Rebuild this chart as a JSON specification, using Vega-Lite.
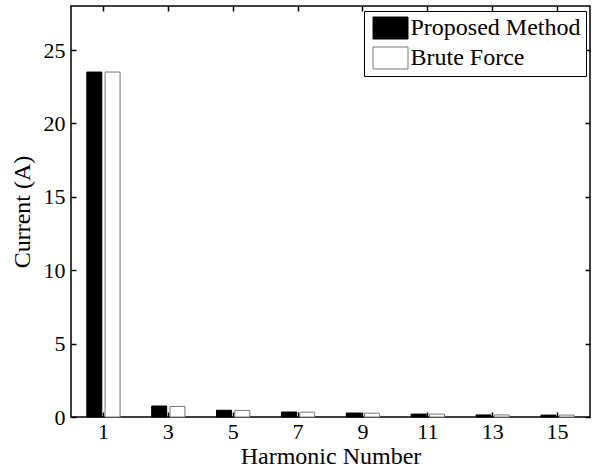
{
  "$schema": "https://vega.github.io/schema/vega-lite/v6.json",
  "autosize": "none",
  "width": 519,
  "height": 411,
  "padding": {"left": 71, "top": 6, "right": 5, "bottom": 53},
  "background": "white",
  "config": {
    "font": "Liberation Serif",
    "view": {"stroke": "black", "strokeWidth": 1.5},
    "axis": {
      "labelFont": "Liberation Serif",
      "titleFont": "Liberation Serif",
      "labelFontSize": 22,
      "titleFontSize": 24,
      "titleFontWeight": "normal",
      "labelColor": "black",
      "titleColor": "black",
      "domain": false,
      "tickColor": "black",
      "tickWidth": 1.5,
      "tickSize": -5,
      "grid": false
    }
  },
  "datasets": {
    "harmonics": [
      {"harmonic": 1, "method": "Proposed Method", "current": 23.5},
      {"harmonic": 1, "method": "Brute Force", "current": 23.5},
      {"harmonic": 3, "method": "Proposed Method", "current": 0.75},
      {"harmonic": 3, "method": "Brute Force", "current": 0.72},
      {"harmonic": 5, "method": "Proposed Method", "current": 0.46},
      {"harmonic": 5, "method": "Brute Force", "current": 0.45},
      {"harmonic": 7, "method": "Proposed Method", "current": 0.34},
      {"harmonic": 7, "method": "Brute Force", "current": 0.33},
      {"harmonic": 9, "method": "Proposed Method", "current": 0.27},
      {"harmonic": 9, "method": "Brute Force", "current": 0.26},
      {"harmonic": 11, "method": "Proposed Method", "current": 0.2},
      {"harmonic": 11, "method": "Brute Force", "current": 0.2},
      {"harmonic": 13, "method": "Proposed Method", "current": 0.14},
      {"harmonic": 13, "method": "Brute Force", "current": 0.14},
      {"harmonic": 15, "method": "Proposed Method", "current": 0.13},
      {"harmonic": 15, "method": "Brute Force", "current": 0.13}
    ]
  },
  "data": {"name": "harmonics"},
  "layer": [
    {
      "mark": {"type": "bar", "strokeWidth": 1},
      "encoding": {
        "x": {
          "field": "harmonic",
          "type": "ordinal",
          "sort": "ascending",
          "scale": {"paddingInner": 0.487, "paddingOuter": 0.2435},
          "axis": {
            "title": "Harmonic Number",
            "labelAngle": 0,
            "labelPadding": 9.5,
            "titleY": 27
          }
        },
        "xOffset": {
          "field": "method",
          "type": "nominal",
          "sort": ["Proposed Method", "Brute Force"],
          "scale": {"paddingInner": 0.18, "paddingOuter": 0}
        },
        "y": {
          "field": "current",
          "type": "quantitative",
          "scale": {"domain": [0, 28], "nice": false},
          "axis": {
            "title": "Current (A)",
            "values": [0, 5, 10, 15, 20, 25],
            "labelPadding": 11,
            "titleX": -37
          }
        },
        "fill": {
          "field": "method",
          "type": "nominal",
          "sort": ["Proposed Method", "Brute Force"],
          "scale": {"domain": ["Proposed Method", "Brute Force"], "range": ["#000000", "#ffffff"]},
          "legend": {
            "title": null,
            "orient": "none",
            "legendX": 293,
            "legendY": 5,
            "direction": "vertical",
            "strokeColor": "black",
            "fillColor": "white",
            "padding": 5,
            "symbolType": "M-1.59,-1h3.18v2h-3.18z",
            "symbolSize": 484,
            "symbolStrokeWidth": 1,
            "symbolOffset": 9.5,
            "labelFont": "Liberation Serif",
            "labelFontSize": 24,
            "labelColor": "black",
            "labelLimit": 300,
            "labelOffset": 8,
            "rowPadding": 4
          }
        },
        "stroke": {
          "field": "method",
          "type": "nominal",
          "sort": ["Proposed Method", "Brute Force"],
          "scale": {"domain": ["Proposed Method", "Brute Force"], "range": ["#000000", "#777777"]}
        }
      }
    },
    {
      "mark": {"type": "point", "opacity": 0},
      "encoding": {
        "x": {
          "field": "harmonic",
          "type": "ordinal",
          "sort": "ascending",
          "axis": {"orient": "top", "labels": false, "title": null}
        },
        "y": {
          "field": "current",
          "type": "quantitative",
          "axis": {"orient": "right", "labels": false, "title": null, "values": [0, 5, 10, 15, 20, 25]}
        }
      }
    }
  ],
  "resolve": {"axis": {"x": "independent", "y": "independent"}}
}
